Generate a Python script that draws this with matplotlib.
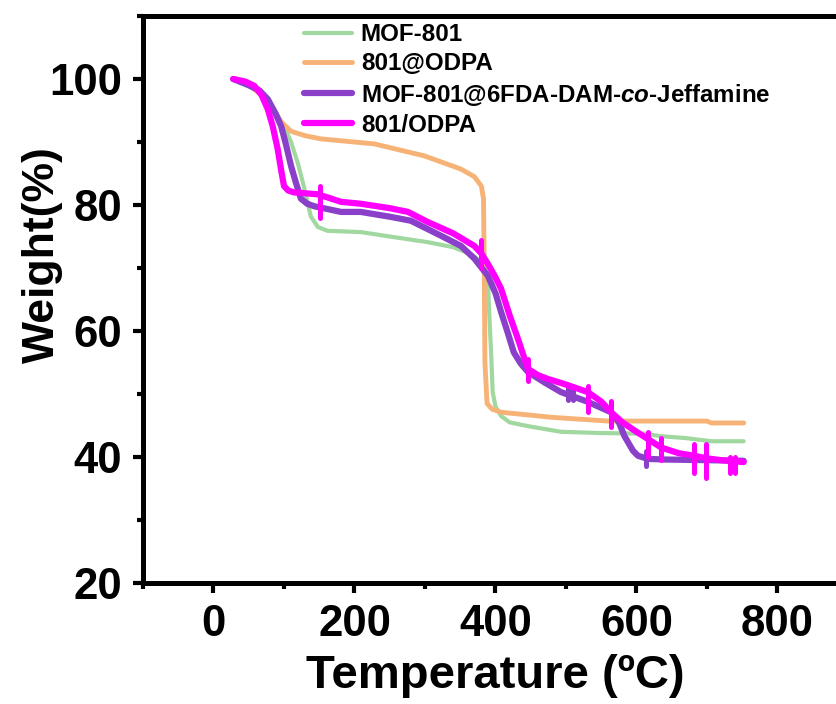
import matplotlib
matplotlib.use("Agg")
import matplotlib.pyplot as plt
from matplotlib.ticker import MultipleLocator

plt.rcParams['font.family'] = ['Liberation Sans', 'DejaVu Sans']
plt.rcParams['font.weight'] = 'bold'
plt.rcParams['mathtext.fontset'] = 'custom'
plt.rcParams['mathtext.bfit'] = 'Liberation Sans:bold:italic'

labels = ["MOF-801", "801@ODPA", "MOF-801@6FDA-DAM-$\\mathbfit{co}$-Jeffamine", "801/ODPA"]
colors = ["#a0d8a0", "#f7b377", "#8a40c8", "#ff00ff"]
widths = [3.0, 3.5, 4.5, 4.5]

t_mof = [28, 50, 70, 86, 100, 110, 120, 128, 138, 148, 162, 209, 250, 304, 340, 365, 380,
         389, 391, 394, 396, 400, 408, 420, 446, 493, 550, 611, 635, 670, 706, 752]
w_mof = [100, 99, 97.5, 95.2, 92.5, 90, 86.5, 83, 78.2, 76.5, 75.9, 75.7, 75.0, 74.1, 73.3, 72.2, 71,
         68.8, 63, 56, 50.3, 48, 46.5, 45.5, 44.9, 44.0, 43.8, 43.7, 43.3, 43, 42.5, 42.5]

t_odpa = [28, 45, 63, 80, 96, 110, 130, 152, 228, 299, 351, 370, 380, 383, 384, 385, 388,
          395, 408, 480, 560, 650, 700, 706, 752]
w_odpa = [100, 99.5, 97.9, 96, 93.2, 91.7, 91, 90.5, 89.7, 87.8, 85.7, 84.5, 83, 81, 70, 55, 48.5,
          47.6, 47.1, 46.3, 45.7, 45.7, 45.7, 45.4, 45.4]

t_jeff = [28, 50, 65, 77, 88, 96, 103, 110, 117, 124, 133, 143, 181, 209, 252, 280, 323, 351,
          370, 389, 400, 408, 418, 426, 436, 446, 470, 493, 530, 564, 575, 583, 595, 602, 616,
          640, 700, 752]
w_jeff = [100, 99, 98.2, 96.8, 94.5, 92.5, 89.5, 86.2, 83.5, 81, 80.2, 79.8, 78.9, 78.9, 78.1, 77.5,
          75.1, 73.5, 71.5, 68.8, 66, 63, 59.5, 56.6, 54.8, 53.5, 51.8, 50.3, 48.8, 47.1, 45.5, 43.3,
          41, 40.2, 39.7, 39.6, 39.5, 39.4]
spike_t_jeff = [503, 510, 613]
spike_lo_jeff = [49.0, 49.0, 38.6]
spike_hi_jeff = [51.2, 51.2, 41.0]

t_slash = [28, 45, 58, 68, 77, 84, 91, 96, 100, 106, 114, 148, 181, 209, 250, 276, 304, 340, 370,
           380, 390, 400, 408, 420, 432, 440, 446, 460, 474, 500, 531, 550, 564, 580, 600, 617,
           635, 660, 682, 699, 720, 740, 752]
w_slash = [100, 99.6, 98.9, 97.5, 95.2, 92.5, 88.9, 85.5, 83, 82.3, 82, 81.7, 80.5, 80.2, 79.5,
           78.9, 77.3, 75.5, 73.5, 72.3, 70.5, 68.5, 66.7, 62.5, 58.7, 56, 54, 53, 52.4, 51.5, 50.3,
           48.8, 47.1, 45.5, 44, 42.8, 41.5, 40.6, 40.2, 39.8, 39.5, 39.3, 39.2]
spike_t_slash = [151, 379, 446, 531, 564, 617, 635, 682, 699, 732, 740]
spike_lo_slash = [78, 70, 52, 47.1, 44.8, 40, 39.5, 37.5, 36.7, 37.5, 37.5]
spike_hi_slash = [83, 74.5, 55.5, 51.3, 48.9, 44, 43, 42, 42, 40, 40]

series = [(t_mof, w_mof), (t_odpa, w_odpa), (t_jeff, w_jeff), (t_slash, w_slash)]
spikes = [None, None, (spike_t_jeff, spike_lo_jeff, spike_hi_jeff),
          (spike_t_slash, spike_lo_slash, spike_hi_slash)]

fig = plt.figure(figsize=(8.37, 7.04), dpi=100)
ax = fig.add_axes([143/837, 121/704, 705/837, 567/704])

for (t, w), sp, lab, c, lw in zip(series, spikes, labels, colors, widths):
    ax.plot(t, w, color=c, lw=lw, label=lab, solid_joinstyle='round', solid_capstyle='round')
    if sp is not None:
        ax.vlines(sp[0], sp[1], sp[2], color=c, lw=lw * 0.8, capstyle='round')

ax.set_xlim(-100, 900)
ax.set_ylim(20, 110)
ax.set_xticks([0, 200, 400, 600, 800])
ax.set_yticks([20, 40, 60, 80, 100])
ax.xaxis.set_minor_locator(MultipleLocator(100))
ax.yaxis.set_minor_locator(MultipleLocator(10))
for s in ax.spines.values():
    s.set_linewidth(3.6)
ax.tick_params(which='major', direction='out', length=7, width=3, labelsize=31.5, pad=8)
ax.tick_params(which='minor', direction='out', length=4, width=3)
ax.tick_params(top=False, right=False, which='both')

ax.set_xlabel("Temperature (ºC)", fontsize=34, fontweight='bold')
ax.set_ylabel("Weight(%)", fontsize=32, fontweight='bold')
ax.yaxis.set_label_coords(-0.113, 0.58)
ax.xaxis.set_label_coords(0.5, -0.125)

leg = ax.legend(loc='upper left', bbox_to_anchor=(304/837, 1 - 23/704),
                bbox_transform=fig.transFigure, frameon=False, fontsize=17.4,
                handlelength=2.0, handletextpad=0.35, labelspacing=0.26,
                borderpad=0, borderaxespad=0)
for txt in leg.get_texts():
    txt.set_fontweight('bold')

fig.savefig("out.png", dpi=100)
